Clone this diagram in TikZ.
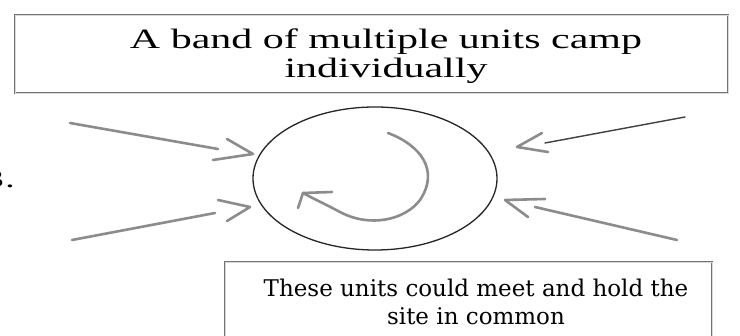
\documentclass[tikz,border=0pt]{standalone}
\usepackage{fontspec}
\setmainfont{Liberation Serif}
\newfontfamily\bottomfont{DejaVu Serif}
\usetikzlibrary{shapes.geometric}
\begin{document}
\begin{tikzpicture}[x=1pt,y=-1pt,
  boxline/.style={draw=black!55, line width=0.7pt, double=black!15, double distance=0.7pt, inner sep=0pt},
  pencil/.style={draw=black!45, line width=2.6pt, line cap=round, line join=round},
  thinpencil/.style={draw=black!75, line width=1.4pt, line cap=round, line join=round},
  ring/.style={draw=black!85, line width=1.3pt, inner sep=0pt},
  toptxt/.style={font=\fontsize{28}{29}\selectfont, align=center, inner sep=0pt},
  bottxt/.style={font=\bottomfont\fontsize{23}{28}\selectfont, align=center, inner sep=0pt}]
\useasboundingbox (0,0) rectangle (740,336);
\clip (0,0) rectangle (740,336);
\fill[white] (0,0) rectangle (740,336);

% top box
\node[boxline, minimum width=713pt, minimum height=78pt] (topbox) at (371.5,54) {};
\node[toptxt] (toptext) at (386,56) {\scalebox{1.5}[1]{A band of multiple units camp}\\\scalebox{1.5}[1]{individually}};

% bottom box (runs past the lower edge)
\node[boxline, minimum width=487pt, minimum height=110pt] (botbox) at (468.5,317) {};
\node[bottxt] (bottext) at (476,302) {These units could meet and hold the\\site in common};

% label at the left, cut by the edge as in the scan
\node[font=\fontsize{25}{25}\selectfont, anchor=base east, inner sep=0pt] (num) at (15,188) {\scalebox{1.5}[1]{3\kern1pt.}};

% the site
\node[ellipse, ring, minimum width=244pt, minimum height=143pt] (site) at (375,178.5) {};

% inner circulating arrow
\coordinate (c0) at (388,133);
\coordinate (ctip) at (303,193);
\draw[pencil] (c0) .. controls (420,145) and (440,170) .. (420,200)
  .. controls (405,220) and (370,228) .. (340,212)
  .. controls (325,204) and (312,198) .. (ctip);
\coordinate (cb1) at (332,192);
\coordinate (cb2) at (298,208);
\draw[pencil] (cb1) -- (ctip) -- (cb2);

% arrow 1: upper left
\coordinate (a1s) at (70,123);
\coordinate (a1e) at (218,149);
\coordinate (a1t) at (253,154);
\coordinate (a1u) at (227,139);
\coordinate (a1l) at (213,160);
\draw[pencil] (a1s) -- (a1e);
\draw[pencil] (a1u) -- (a1t) -- (a1l);

% arrow 2: lower left
\coordinate (a2s) at (72,240);
\coordinate (a2e) at (215,213);
\coordinate (a2t) at (250,207);
\coordinate (a2u) at (218,200);
\coordinate (a2l) at (227,221);
\draw[pencil] (a2s) -- (a2e);
\draw[pencil] (a2u) -- (a2t) -- (a2l);

% arrow 3: upper right
\coordinate (a3s) at (685,117);
\coordinate (a3e) at (545,143);
\coordinate (a3t) at (517,147);
\coordinate (a3u) at (542,133);
\coordinate (a3l) at (548,152);
\draw[thinpencil] (a3s) -- (a3e);
\draw[pencil] (a3u) -- (a3t) -- (a3l);

% arrow 4: lower right
\coordinate (a4s) at (677,240);
\coordinate (a4e) at (535,207);
\coordinate (a4t) at (505,200);
\coordinate (a4u) at (545,199);
\coordinate (a4l) at (528,217);
\draw[pencil] (a4s) -- (a4e);
\draw[pencil] (a4u) -- (a4t) -- (a4l);
\end{tikzpicture}
\end{document}
